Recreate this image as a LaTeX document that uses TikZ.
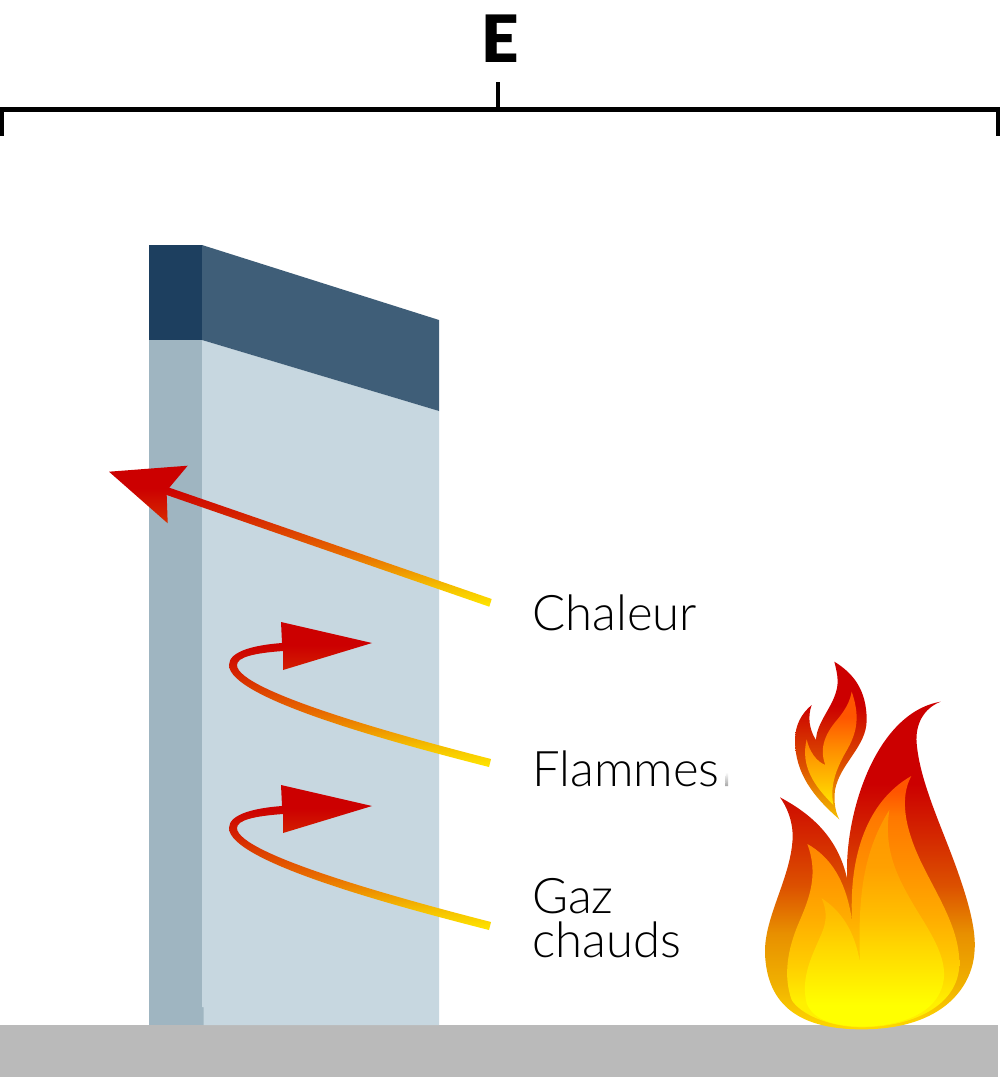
\documentclass[tikz,border=0pt]{standalone}
\usepackage{fontspec}
\setmainfont{Lato Light}
\newfontfamily\heavyfont{Lato Black}
\definecolor{fa}{HTML}{CC0000}\definecolor{fb}{HTML}{D83A00}\definecolor{fc}{HTML}{EA8A00}\definecolor{fd}{HTML}{FFE600}
\definecolor{ga}{HTML}{FF5500}\definecolor{gb}{HTML}{FF9000}\definecolor{gc}{HTML}{FFC000}\definecolor{gd}{HTML}{FFF000}
\definecolor{ja}{HTML}{FF9500}\definecolor{jb}{HTML}{FFB800}\definecolor{jc}{HTML}{FFE000}\definecolor{jd}{HTML}{FFFF00}
\definecolor{aa}{HTML}{F5C000}\definecolor{ab}{HTML}{E86A00}\definecolor{ac}{HTML}{D42000}
\definecolor{oa}{HTML}{FFD800}\definecolor{ob}{HTML}{F0B000}\definecolor{oc}{HTML}{E89000}\definecolor{od}{HTML}{DC5000}\definecolor{oe}{HTML}{D42800}
\definecolor{ma}{HTML}{FF7800}\definecolor{mb}{HTML}{FFAC00}\definecolor{mc}{HTML}{FFCF00}
\definecolor{ia}{HTML}{FFA000}\definecolor{ib}{HTML}{FFC000}\definecolor{ic}{HTML}{FFD800}
\pgfdeclareverticalshading{arrowfill}{100bp}{color(0bp)=(fd);color(25bp)=(fd);color(32bp)=(aa);color(44bp)=(ab);color(58bp)=(ac);color(67bp)=(fa);color(100bp)=(fa)}
\pgfdeclareverticalshading{flameout}{100bp}{color(0bp)=(oa);color(25bp)=(oa);color(32bp)=(ob);color(39.6bp)=(oc);color(47bp)=(od);color(54.4bp)=(oe);color(62.5bp)=(fa);color(100bp)=(fa)}
\pgfdeclareverticalshading{flamemid}{100bp}{color(0bp)=(gd);color(30bp)=(gd);color(37bp)=(mc);color(47bp)=(mb);color(57bp)=(gb);color(67bp)=(ma);color(72bp)=(ga);color(100bp)=(ga)}
\pgfdeclareverticalshading{flamein}{100bp}{color(0bp)=(jd);color(30bp)=(jd);color(35bp)=(gd);color(43bp)=(ic);color(50bp)=(ib);color(62bp)=(ia);color(75bp)=(ja);color(100bp)=(ja)}
\pgfdeclareverticalshading{smallout}{100bp}{color(0bp)=(aa);color(25bp)=(aa);color(42bp)=(od);color(52bp)=(oe);color(61bp)=(fa);color(100bp)=(fa)}
\pgfdeclareverticalshading{smallin}{100bp}{color(0bp)=(fd);color(25bp)=(fd);color(35bp)=(gc);color(49bp)=(gb);color(64bp)=(ga);color(100bp)=(ga)}
\definecolor{walltop}{HTML}{1D3F5F}\definecolor{wallband}{HTML}{3F5E78}
\definecolor{wallside}{HTML}{9FB5C1}\definecolor{wallface}{HTML}{C7D7E0}
\definecolor{groundc}{HTML}{BABABA}
\tikzset{
  barh/.style={line width=3.75pt,black},
  barv/.style={line width=2.5pt,black},
  label/.style={anchor=west,inner sep=0pt,font=\fontsize{36.8}{33}\selectfont,align=left},
  heat/.style={shading=arrowfill}
}
\begin{document}
\begin{tikzpicture}[x=0.75pt,y=-0.75pt]
\useasboundingbox (0,0) rectangle (1000,1077);
\fill[white] (0,0) rectangle (1000,1077);
% ground
\fill[groundc] (0,1025) rectangle (998,1077);
% wall
\fill[wallside] (149,340) rectangle (202,1025);
\fill[wallside] (202,1007) rectangle (203.5,1025);
\fill[wallface] (202,340) -- (439,411) -- (439,1025) -- (203.5,1025) -- (203.5,1007) -- (202,1007) -- cycle;
\fill[walltop] (149,245) rectangle (202,340);
\fill[wallband] (202,245) -- (439,320) -- (439,411) -- (202,340) -- cycle;
% bracket
\coordinate (bl) at (2,136);\coordinate (bltop) at (2,107);
\coordinate (br) at (998,136);\coordinate (brtop) at (998,107);
\coordinate (hl) at (0,109.5);\coordinate (hr) at (1000,109.5);
\coordinate (bm) at (498,109);\coordinate (bmtop) at (498,82);
\draw[barh] (hl) -- (hr);
\draw[barv] (bl) -- (bltop);
\draw[barv] (br) -- (brtop);
\draw[barv] (bm) -- (bmtop);
\node[inner sep=0pt] (e) at (500.5,38.5) {\heavyfont\fontsize{49}{49}\selectfont E};
% arrows
\path[heat] (491.7,599) -- (169.3,487.7) -- (187.7,465.7) -- (109,471.7) -- (167.7,523.3) -- (166.7,495) -- (489.3,606.7) -- cycle;
\path[heat] (491,759) .. controls (401,736) and (237,691) .. (237,665)
  .. controls (237,657) and (255,653) .. (283,651) -- (283,670) -- (372,643) -- (281,622) -- (282,643)
  .. controls (255,645) and (229,651) .. (229,665) .. controls (229,699) and (399,744) .. (489,767) -- cycle;
\path[heat] (491,922) .. controls (401,899) and (237,854) .. (237,828)
  .. controls (237,820) and (255,816) .. (283,814) -- (283,833) -- (372,806) -- (281,785) -- (282,806)
  .. controls (255,808) and (229,814) .. (229,828) .. controls (229,862) and (399,907) .. (489,930) -- cycle;
% labels
\node[label] (chaleur) at (532,613) {Chaleur};
\node[label] (flammes) at (532,769) {Flammes};
\node[label] (gaz) at (532,918) {Gaz\\chauds};
\path[top color=white,bottom color=black!35] (726,772) -- (728,772) -- (728,786) -- (725,786) -- cycle;
% flame
\begin{scope}[shift={(750,650)},x=0.25pt,y=-0.25pt]
\path[shading=flameout] (572,155) .. controls (520,175) and (495,225) .. (500,280) .. controls (510,400) and (580,540) .. (625,670) .. controls (660,770) and (680,850) .. (673,910) .. controls (665,1010) and (580,1138) .. (335,1138) .. controls (130,1138) and (50,1050) .. (45,910) .. controls (42,800) and (125,680) .. (128,560) .. controls (128,510) and (110,470) .. (90,442) .. controls (180,490) and (265,560) .. (292,690) .. controls (280,510) and (370,190) .. (572,155) -- cycle;
\path[shading=flamemid] (484,378) .. controls (450,440) and (460,530) .. (520,650) .. controls (570,750) and (628,840) .. (628,940) .. controls (628,1060) and (500,1130) .. (335,1132) .. controls (230,1130) and (150,1090) .. (125,1050) .. controls (100,980) and (110,900) .. (150,810) .. controls (180,740) and (205,670) .. (172,582) .. controls (240,620) and (290,690) .. (307,820) .. controls (295,640) and (340,460) .. (484,378) -- cycle;
\path[shading=flamein] (418,480) .. controls (400,600) and (440,680) .. (500,780) .. controls (550,860) and (585,920) .. (582,980) .. controls (575,1080) and (470,1128) .. (335,1130) .. controls (250,1128) and (190,1110) .. (170,1060) .. controls (150,980) and (190,910) .. (215,850) .. controls (232,810) and (230,780) .. (215,745) .. controls (270,780) and (315,840) .. (330,940) .. controls (325,770) and (330,620) .. (418,480) -- cycle;
\path[shading=smallout] (253,35) .. controls (310,70) and (350,120) .. (350,210) .. controls (350,290) and (270,340) .. (255,420) .. controls (250,460) and (258,490) .. (268,508) .. controls (190,440) and (135,370) .. (135,270) .. controls (135,225) and (155,190) .. (185,165) .. controls (172,200) and (178,240) .. (198,270) .. controls (200,210) and (262,160) .. (263,95) .. controls (263,75) and (258,55) .. (253,35) -- cycle;
\path[shading=smallin] (305,125) .. controls (335,210) and (315,260) .. (285,310) .. controls (255,365) and (240,410) .. (250,465) .. controls (195,410) and (150,350) .. (170,268) .. controls (178,305) and (200,335) .. (226,345) .. controls (205,290) and (230,245) .. (265,205) .. controls (285,180) and (300,155) .. (305,125) -- cycle;
\end{scope}
\end{tikzpicture}
\end{document}
